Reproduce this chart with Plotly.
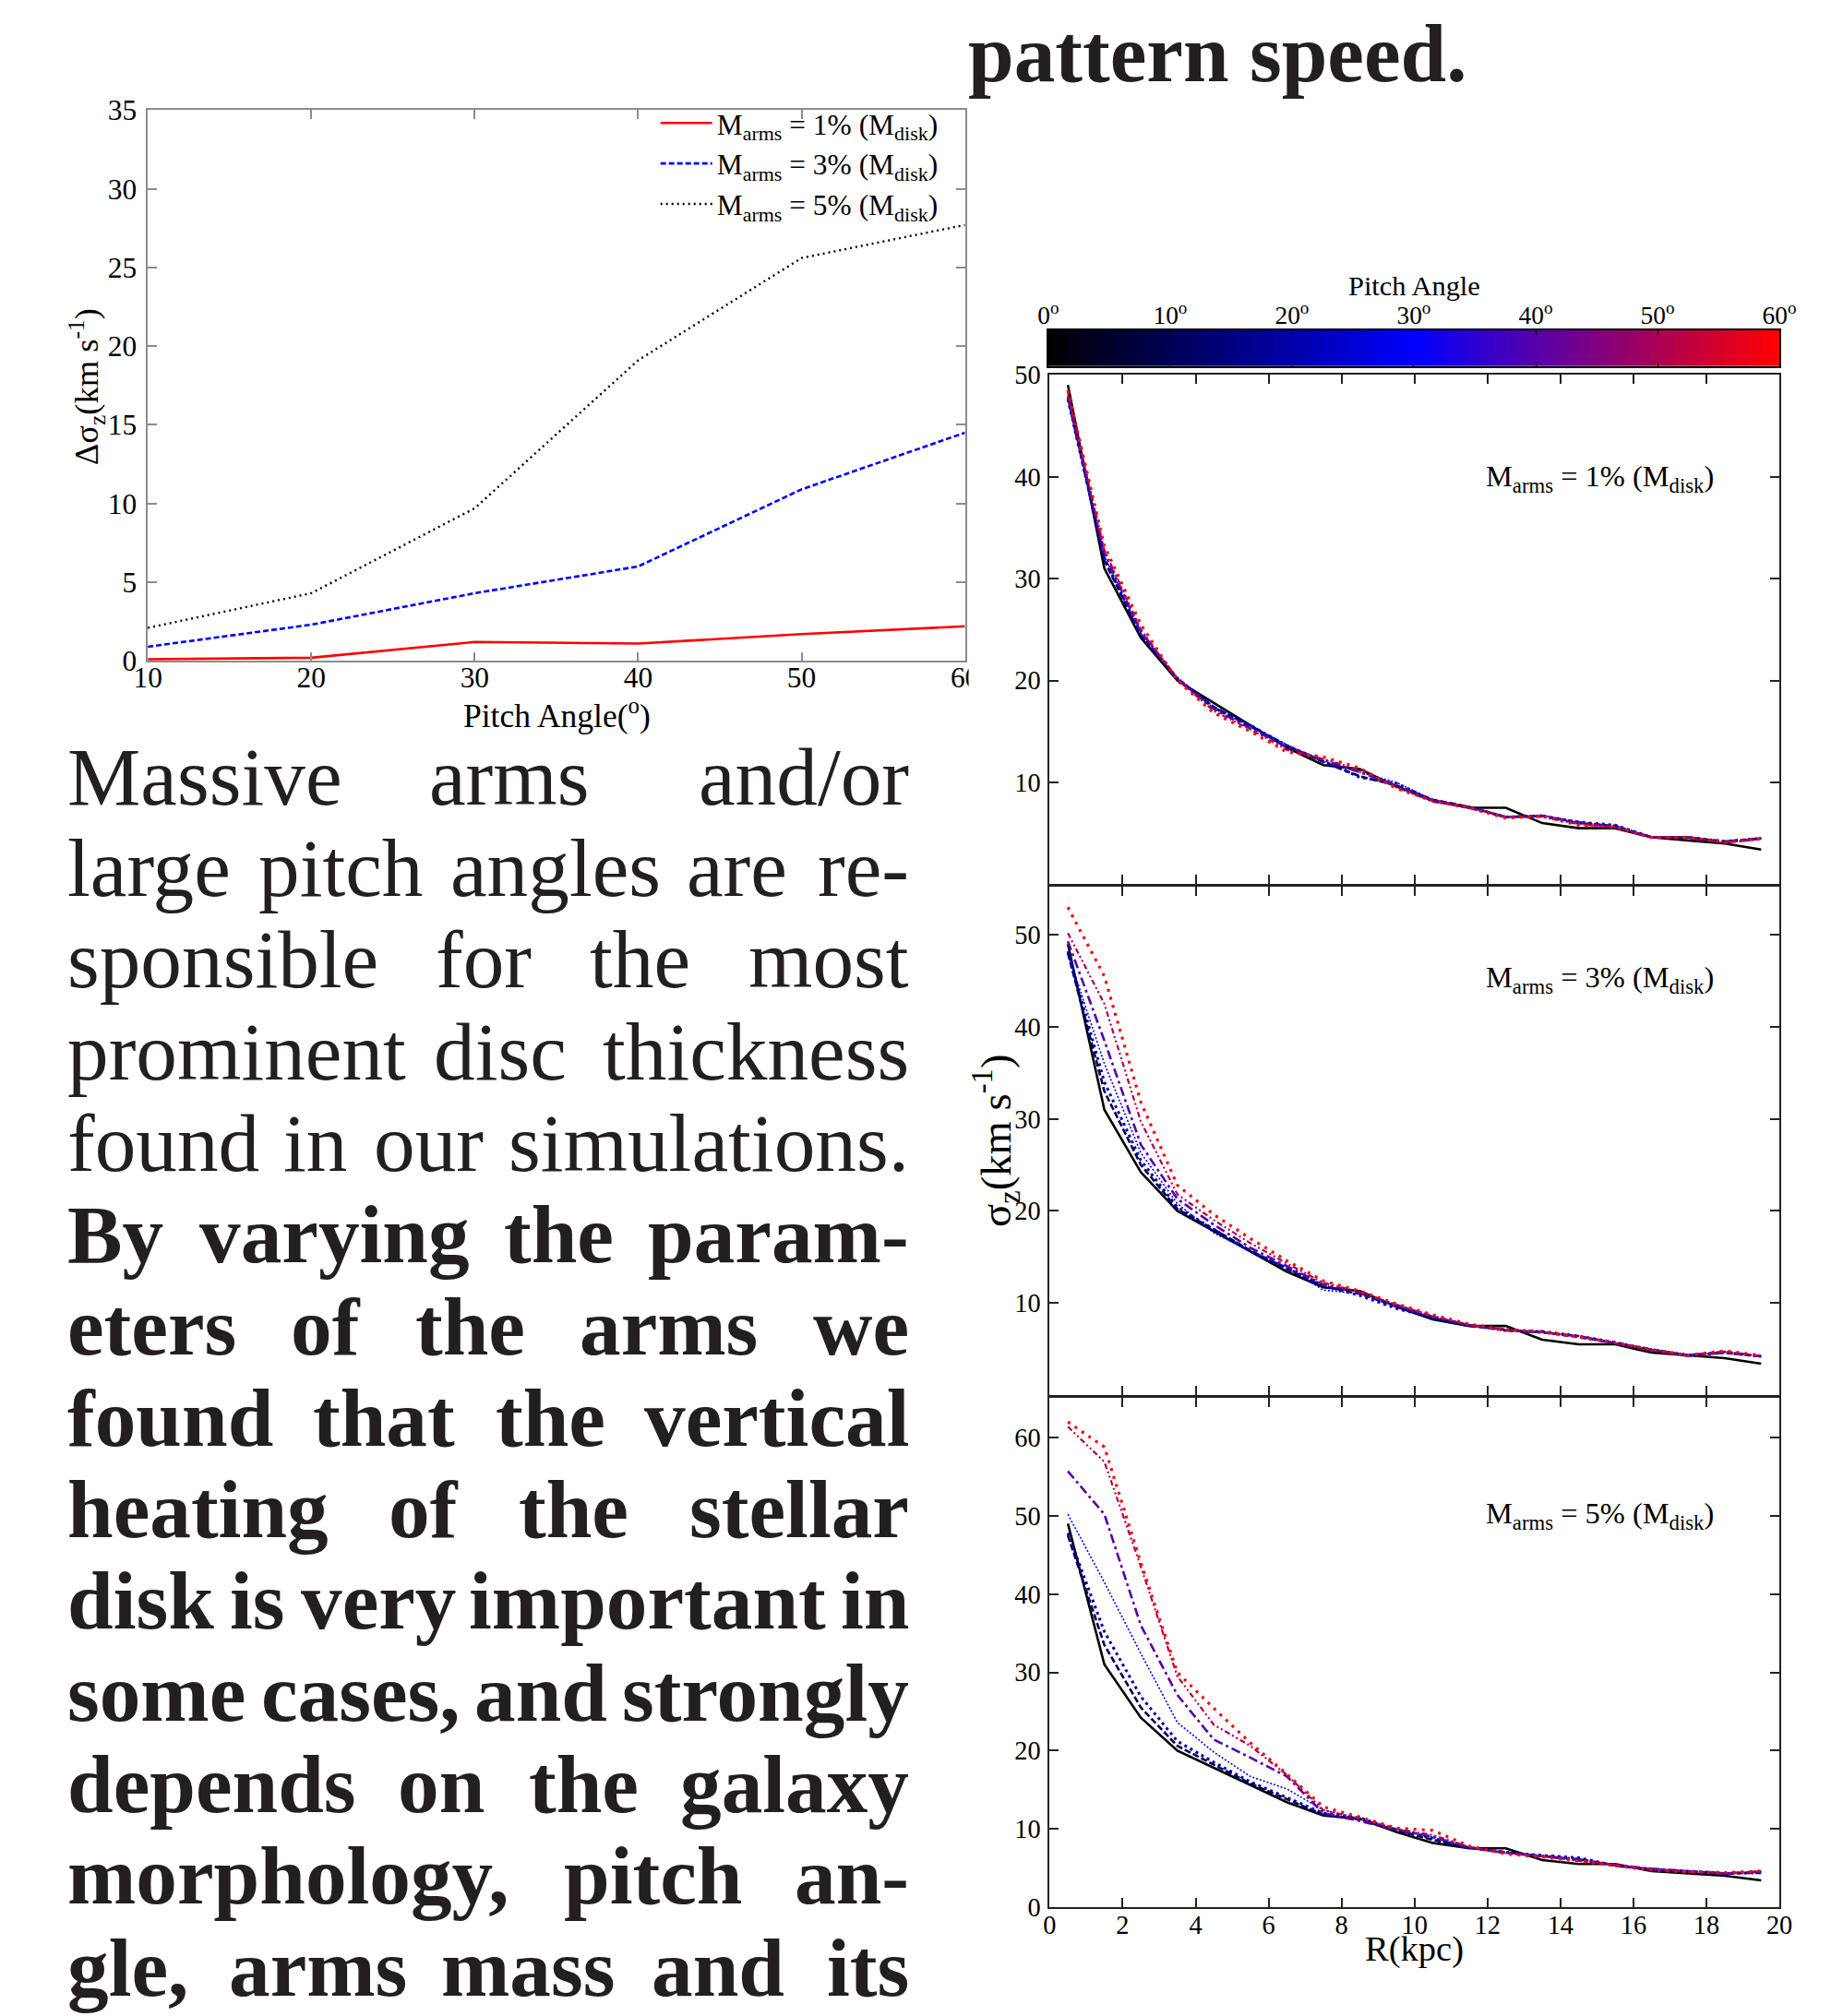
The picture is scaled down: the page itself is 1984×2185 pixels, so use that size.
import plotly.graph_objects as go

W, H = 1984, 2185
FONT = "Liberation Serif"

# The page is photographed with a slight scale/offset; positions below are given in
# target-picture pixels and converted to layout fractions here.
A, BX, BY = 0.9857, 12.4, 15.5


def px(x):
    return ((x - BX) / A) / W


def py(y):
    return 1 - ((y - BY) / A) / H


def fs(s):
    return s / A


# ---------------- data: top-left chart ----------------
pitch = [10, 20, 30, 40, 50, 60]
dsig_m1 = [0.1, 0.2, 1.2, 1.1, 1.7, 2.2]
dsig_m3 = [0.9, 2.3, 4.3, 6.0, 10.9, 14.5]
dsig_m5 = [2.1, 4.3, 9.7, 19.1, 25.6, 27.7]

# ---------------- data: sigma_z(R) panels ----------------
R = [0.5, 1.5, 2.5, 3.5, 4.5, 5.5, 6.5, 7.5, 8.5, 9.5,
     10.5, 11.5, 12.5, 13.5, 14.5, 15.5, 16.5, 17.5, 18.5, 19.5]
angles = [0, 10, 20, 30, 40, 50, 60]

sig_ref = [49.0, 31.0, 24.2, 20.0, 17.8, 15.6, 13.4, 11.7, 11.3, 9.6,
           8.2, 7.5, 7.5, 6.0, 5.5, 5.5, 4.6, 4.3, 4.0, 3.4]

m1_p10 = [47.8, 31.8, 24.4, 20.1, 17.4, 15.5, 13.6, 12.0, 10.6, 9.7, 8.3, 7.6, 6.6, 6.7, 6.0, 5.7, 4.6, 4.6, 4.2, 4.5]
m1_p20 = [47.6, 32.0, 24.5, 20.2, 17.3, 15.6, 13.6, 12.1, 10.5, 9.9, 8.2, 7.5, 6.6, 6.7, 6.1, 5.8, 4.6, 4.6, 4.2, 4.5]
m1_p30 = [47.5, 32.2, 24.6, 20.3, 17.4, 15.6, 13.7, 12.0, 11.0, 10.0, 8.3, 7.6, 6.6, 6.8, 6.0, 5.8, 4.6, 4.6, 4.1, 4.5]
m1_p40 = [47.9, 32.5, 24.8, 20.2, 17.2, 15.3, 13.5, 12.2, 11.0, 9.7, 8.2, 7.6, 6.6, 6.7, 6.1, 5.6, 4.6, 4.6, 4.1, 4.5]
m1_p50 = [48.2, 32.8, 25.0, 20.1, 17.0, 15.2, 13.2, 12.3, 11.2, 9.5, 8.1, 7.5, 6.6, 6.6, 5.9, 5.6, 4.6, 4.6, 4.1, 4.4]
m1_p60 = [48.5, 33.2, 25.5, 20.0, 16.8, 15.0, 13.0, 12.5, 11.4, 9.4, 8.2, 7.5, 6.5, 6.7, 5.8, 5.6, 4.6, 4.6, 4.1, 4.5]

m3_p10 = [48.0, 33.0, 25.0, 20.2, 18.0, 15.7, 13.7, 11.8, 11.0, 9.6, 8.3, 7.5, 7.1, 6.8, 6.3, 5.6, 4.9, 4.3, 4.6, 4.2]
m3_p20 = [48.2, 34.0, 25.5, 20.4, 18.0, 15.6, 13.8, 11.9, 10.8, 9.4, 8.4, 7.6, 7.0, 6.9, 6.4, 5.7, 4.9, 4.3, 4.6, 4.2]
m3_p30 = [48.0, 36.0, 26.3, 20.8, 17.6, 15.6, 13.9, 11.4, 11.0, 9.6, 8.4, 7.6, 7.0, 6.8, 6.4, 5.7, 5.0, 4.4, 4.7, 4.2]
m3_p40 = [49.3, 38.5, 27.2, 21.3, 18.5, 16.0, 14.0, 12.0, 11.1, 9.8, 8.5, 7.6, 7.0, 6.8, 6.4, 5.6, 4.9, 4.3, 4.7, 4.2]
m3_p50 = [50.2, 42.5, 29.7, 21.8, 19.0, 16.5, 14.3, 12.2, 11.2, 9.8, 8.6, 7.6, 7.1, 6.8, 6.3, 5.6, 4.9, 4.2, 4.7, 4.2]
m3_p60 = [53.0, 45.5, 31.8, 22.8, 19.6, 17.0, 14.6, 12.4, 11.3, 9.9, 8.7, 7.7, 7.1, 6.9, 6.3, 5.7, 4.9, 4.3, 4.8, 4.3]

m5_p10 = [47.5, 33.5, 25.5, 20.6, 18.2, 15.8, 13.8, 11.8, 11.2, 9.8, 8.6, 7.6, 7.0, 6.5, 6.1, 5.3, 4.8, 4.5, 4.3, 4.4]
m5_p20 = [47.8, 35.2, 26.9, 21.2, 18.5, 16.0, 14.0, 12.0, 11.4, 9.9, 8.8, 7.6, 7.0, 6.6, 6.3, 5.3, 4.8, 4.6, 4.3, 4.4]
m5_p30 = [50.2, 41.5, 32.4, 23.6, 19.8, 16.7, 15.1, 12.4, 11.3, 10.0, 8.9, 7.5, 6.9, 6.6, 6.2, 5.4, 4.8, 4.6, 4.3, 4.3]
m5_p40 = [55.7, 50.2, 36.0, 27.1, 21.4, 19.1, 16.7, 12.0, 11.0, 9.9, 9.0, 7.6, 6.9, 6.5, 6.0, 5.4, 4.9, 4.6, 4.3, 4.5]
m5_p50 = [61.4, 56.9, 43.5, 29.5, 23.3, 20.6, 16.9, 12.4, 11.3, 10.0, 9.2, 7.7, 6.9, 6.5, 5.9, 5.4, 4.8, 4.5, 4.3, 4.6]
m5_p60 = [62.0, 58.8, 44.0, 30.0, 25.4, 21.0, 17.0, 12.8, 11.5, 10.1, 9.8, 7.8, 6.8, 6.4, 5.9, 5.3, 4.7, 4.5, 4.4, 4.6]

panel_labels = ["1%", "3%", "5%"]
panel_series = [
    [sig_ref, m1_p10, m1_p20, m1_p30, m1_p40, m1_p50, m1_p60],
    [sig_ref, m3_p10, m3_p20, m3_p30, m3_p40, m3_p50, m3_p60],
    [sig_ref, m5_p10, m5_p20, m5_p30, m5_p40, m5_p50, m5_p60],
]
panel_yticks = [[10, 20, 30, 40, 50], [10, 20, 30, 40, 50], [0, 10, 20, 30, 40, 50, 60]]
panel_yrange = [[0, 50], [0, 55.2], [0, 65.1]]

colorbar_angles = list(range(0, 61))
colorbar_ticks = [0, 10, 20, 30, 40, 50, 60]

# styles (colour from the black->blue->red pitch-angle scale)
line_style = {
    0: ("#000000", "solid", 2.6),
    10: ("#000055", "7px,3px", 2.6),
    20: ("#0000aa", "3px,4px", 3.0),
    30: ("#0000ff", "2px,2px", 1.6),
    40: ("#5500aa", "10px,4px,3px,4px", 2.6),
    50: ("#aa0055", "6px,3px,2px,3px,2px,3px", 2.2),
    60: ("#ff0000", "3px,6px", 3.2),
}

fig = go.Figure()

# ---- top-left chart ----
fig.add_trace(go.Scatter(x=pitch, y=dsig_m1, mode="lines", xaxis="x", yaxis="y",
                         name="M<sub>arms</sub> = 1% (M<sub>disk</sub>)",
                         line=dict(color="#ff0000", width=2.6)))
fig.add_trace(go.Scatter(x=pitch, y=dsig_m3, mode="lines", xaxis="x", yaxis="y",
                         name="M<sub>arms</sub> = 3% (M<sub>disk</sub>)",
                         line=dict(color="#0000ff", width=2.6, dash="6px,3px")))
fig.add_trace(go.Scatter(x=pitch, y=dsig_m5, mode="lines", xaxis="x", yaxis="y",
                         name="M<sub>arms</sub> = 5% (M<sub>disk</sub>)",
                         line=dict(color="#000000", width=2.4, dash="2px,4px")))

# ---- colour bar as heatmap ----
fig.add_trace(go.Heatmap(z=[colorbar_angles], x=colorbar_angles, y=[0],
                         xaxis="x5", yaxis="y5", zmin=0, zmax=60,
                         colorscale=[[0, "#000000"], [0.5, "#0000ff"], [1, "#ff0000"]],
                         showscale=False, hoverinfo="skip"))

# ---- sigma_z panels ----
for p, series in enumerate(panel_series):
    ax = str(p + 2)
    for ang, ys in zip(angles, series):
        col, dash, wid = line_style[ang]
        fig.add_trace(go.Scatter(x=R, y=ys, mode="lines", xaxis="x" + ax, yaxis="y" + ax,
                                 showlegend=False, name=f"{ang}°",
                                 line=dict(color=col, width=wid, dash=dash)))

tick_font = dict(family=FONT, size=fs(31), color="black")
grey = "#8c8c8c"

layout = dict(
    width=W, height=H, margin=dict(l=0, r=0, t=0, b=0),
    paper_bgcolor="white", plot_bgcolor="rgba(0,0,0,0)",
    font=dict(family=FONT, color="black"),
    showlegend=True,
    legend=dict(x=px(1021), y=py(105), xanchor="right", yanchor="top",
                bgcolor="rgba(0,0,0,0)", font=dict(family=FONT, size=fs(31), color="black"),
                itemwidth=56, tracegroupgap=0),
    xaxis=dict(domain=[px(157), px(1045)], anchor="y", range=[10, 60],
               tickvals=pitch, ticks="inside", ticklen=10, tickcolor=grey, tickwidth=1.5,
               showline=True, linecolor=grey, linewidth=1.5, mirror="ticks",
               showgrid=False, zeroline=False, tickfont=tick_font, ticklabelstandoff=-11),
    yaxis=dict(domain=[py(716), py(118)], anchor="x", range=[0, 35],
               tickvals=[0, 5, 10, 15, 20, 25, 30, 35], ticks="inside", ticklen=10,
               tickcolor=grey, tickwidth=1.5, showline=True, linecolor=grey, linewidth=1.5,
               mirror="ticks", showgrid=False, zeroline=False, tickfont=tick_font,
               ticklabelstandoff=4),
    xaxis5=dict(domain=[px(1135.5), px(1930)], anchor="y5", range=[0, 60], side="top",
                tickvals=colorbar_ticks,
                ticktext=[f"{a}<sup>o</sup>" for a in colorbar_ticks],
                ticks="inside", ticklen=5, tickcolor="black", showline=True,
                linecolor="black", linewidth=1.5, mirror="ticks", showgrid=False,
                zeroline=False, tickfont=dict(family=FONT, size=fs(27), color="black"),
                ticklabelstandoff=-6),
    yaxis5=dict(domain=[py(396), py(357)], anchor="x5", range=[-0.5, 0.5],
                showticklabels=False, ticks="", showline=True, linecolor="black",
                linewidth=1.5, mirror=True, showgrid=False, zeroline=False),
)

panel_tops = [405.5, 961.5, 1516]
panel_bots = [958.5, 1513, 2069]
for p in range(3):
    ax = str(p + 2)
    last = p == 2
    xa = dict(domain=[px(1137), px(1930)], anchor="y" + ax, range=[0, 20],
              tickvals=[0, 2, 4, 6, 8, 10, 12, 14, 16, 18, 20],
              showticklabels=last, ticks="inside", ticklen=10, tickcolor="#222",
              tickwidth=1.5, showline=True, linecolor="#222", linewidth=2,
              mirror="ticks", showgrid=False, zeroline=False,
              tickfont=dict(family=FONT, size=fs(28), color="black"), ticklabelstandoff=-7)
    ya = dict(domain=[py(panel_bots[p]), py(panel_tops[p])], anchor="x" + ax,
              range=panel_yrange[p], tickvals=panel_yticks[p], ticks="inside", ticklen=10,
              tickcolor="#222", tickwidth=1.5, showline=True, linecolor="#222", linewidth=2,
              mirror="ticks", showgrid=False, zeroline=False,
              tickfont=dict(family=FONT, size=fs(28), color="black"), ticklabelstandoff=2)
    layout["xaxis" + ax] = xa
    layout["yaxis" + ax] = ya

fig.update_layout(**layout)

annotations = []


def label(x, y, text, size, angle=0, anchor="center"):
    annotations.append(dict(xref="paper", yref="paper", x=px(x), y=py(y), text=text,
                            showarrow=False, xanchor=anchor, yanchor="middle",
                            textangle=angle, borderpad=0,
                            font=dict(family=FONT, size=fs(size), color="black")))


# axis titles
label(602, 773, "Pitch Angle(<sup>o</sup>)", 35)
label(90, 418, "Δσ<sub>z</sub>(km s<sup>-1</sup>)", 36, angle=-90)
label(1533, 2115, "R(kpc)", 38)
label(1078, 1237, "σ<sub>z</sub>(km s<sup>-1</sup>)", 46, angle=-90)

# panel labels
ann_y = [518, 1062, 1644]
for p in range(3):
    label(1735, ann_y[p], f"M<sub>arms</sub> = {panel_labels[p]} (M<sub>disk</sub>)", 32)
# colour bar title
label(1533, 309, "Pitch Angle", 30)

# heading fragment
annotations.append(dict(xref="paper", yref="paper", x=px(1046), y=py(86 - 30),
                        text="pattern speed.", showarrow=False, xanchor="left",
                        yanchor="middle",
                        font=dict(family=FONT, size=fs(88), color="#231f20", weight="bold")))

# body text (justified): first word left-aligned, last word right-aligned,
# inner words centred on their place in the column
body_lines = [
    (False, [("Massive", None), ("arms", 550), ("and/or", None)]),
    (False, [("large", None), ("pitch", 367), ("angles", 600), ("are", 797), ("re-", None)]),
    (False, [("sponsible", None), ("for", 522), ("the", 692), ("most", None)]),
    (False, [("prominent", None), ("disc", 540), ("thickness", None)]),
    (False, [("found", None), ("in", 339), ("our", 462), ("simulations.", None)]),
    (True, [("By", None), ("varying", 360), ("the", 604), ("param-", None)]),
    (True, [("eters", None), ("of", 350), ("the", 507), ("arms", 723), ("we", None)]),
    (True, [("found", None), ("that", 414), ("the", 595), ("vertical", None)]),
    (True, [("heating", None), ("of", 457), ("the", 620), ("stellar", None)]),
    (True, [("disk", None), ("is", 276), ("very", 408), ("important", 700), ("in", None)]),
    (True, [("some", None), ("cases,", 388), ("and", 584), ("strongly", None)]),
    (True, [("depends", None), ("on", 476), ("the", 631), ("galaxy", None)]),
    (True, [("morphology,", None), ("pitch", 706), ("an-", None)]),
    (True, [("gle,", None), ("arms", 342), ("mass", 570), ("and", 777), ("its", None)]),
]
for i, (bold, words) in enumerate(body_lines):
    base = 871 + 99.5 * i
    n = len(words)
    for j, (word, xc) in enumerate(words):
        if j == 0:
            xx, anc = 68, "left"
        elif j == n - 1:
            xx, anc = 986, "right"
        else:
            xx, anc = xc, "center"
        annotations.append(dict(
            xref="paper", yref="paper", x=px(xx), y=py(base - 30),
            xanchor=anc, yanchor="middle", text=word, showarrow=False,
            font=dict(family=FONT, size=fs(88), color="#231f20",
                      weight="bold" if bold else "normal")))

fig.update_layout(annotations=annotations)

# crop of the left figure at the column edge (hides part of its last tick label)
fig.add_shape(type="rect", xref="paper", yref="paper", x0=px(1049), x1=px(1088),
              y0=py(790), y1=py(722), fillcolor="white", line=dict(width=0), layer="above")

fig.write_html(
    "out.html",
    config={"displayModeBar": False},
    post_script="document.body.style.margin='0px';document.body.style.padding='0px';"
                "document.documentElement.style.overflow='hidden';",
)
